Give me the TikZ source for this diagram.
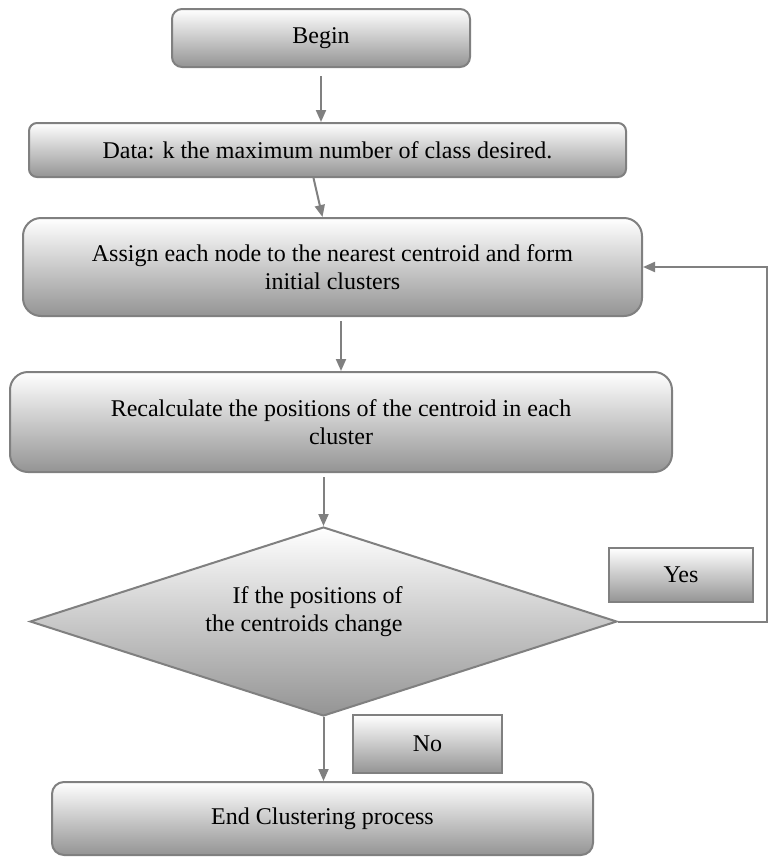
\documentclass[tikz,border=0pt]{standalone}
\usepackage{fontspec}
\setmainfont{Liberation Serif}
\usepackage{tikz}
\usetikzlibrary{shapes.geometric, arrows.meta}

\begin{document}
\begin{tikzpicture}[x = 0.5pt, y = -0.5pt,
        box/.style = {draw = lineColor, line width = 1pt, top color = white, middle color = black!12, bottom color = black!42, font = \fontsize{12}{14}\selectfont, align = center, inner sep = 0pt},
        flow/.style = {draw = lineColor, line width = 1pt, -{Triangle[length = 6pt, width = 5pt]}}]
            % \draw [help lines, step = 50] (0,0) grid (776,858);

            \definecolor{lineColor}{RGB}{128,128,128};
            \path [fill = white] (0,0) rectangle (776,858);

            \node [box, rounded corners = 5pt, minimum width = 149pt, minimum height = 29pt] (begin) at (321,38) {Begin};
            \node [box, rounded corners = 4pt, minimum width = 298.5pt, minimum height = 27pt] (data) at (327.5,150) {Data: k the maximum number of class desired.};
            \node [box, rounded corners = 9pt, minimum width = 309.5pt, minimum height = 49pt] (assign) at (332.5,267) {Assign each node to the nearest centroid and form\\initial clusters};
            \node [box, rounded corners = 9pt, minimum width = 331pt, minimum height = 50pt] (recalc) at (341,422) {Recalculate the positions of the centroid in each\\cluster};

            \node [box, diamond, minimum width = 293.5pt, minimum height = 94.5pt] (test) at (323.5,621.5) {};
            \node [font = \fontsize{12}{14}\selectfont, align = right] (testText) at (304,612) {If the positions of\\the centroids change};

            \node [box, minimum width = 72pt, minimum height = 27pt] (yes) at (681,575) {Yes};
            \node [box, minimum width = 74.5pt, minimum height = 29pt] (no) at (427.5,744) {No};

            \node [box, rounded corners = 6pt, minimum width = 270.5pt, minimum height = 36.5pt] (end) at (322.5,818.5) {End Clustering process};

            % arrows
            \draw [flow] ([yshift = -4pt]begin.south) -- (begin.south |- data.north);
            \draw [flow] ([xshift = -7pt]data.south) -- ([xshift = -5pt]assign.north);
            \draw [flow] ([yshift = -2pt]recalc.north |- assign.south) -- (recalc.north);
            \draw [flow] ([yshift = -2pt]test.north |- recalc.south) -- (test.north);
            \draw [flow] (test.south) -- (test.south |- end.north);

            \coordinate (loop) at (767,621.5);
            \draw [flow] (test.east) -- (loop) |- (assign.east);

\end{tikzpicture}
\end{document}
